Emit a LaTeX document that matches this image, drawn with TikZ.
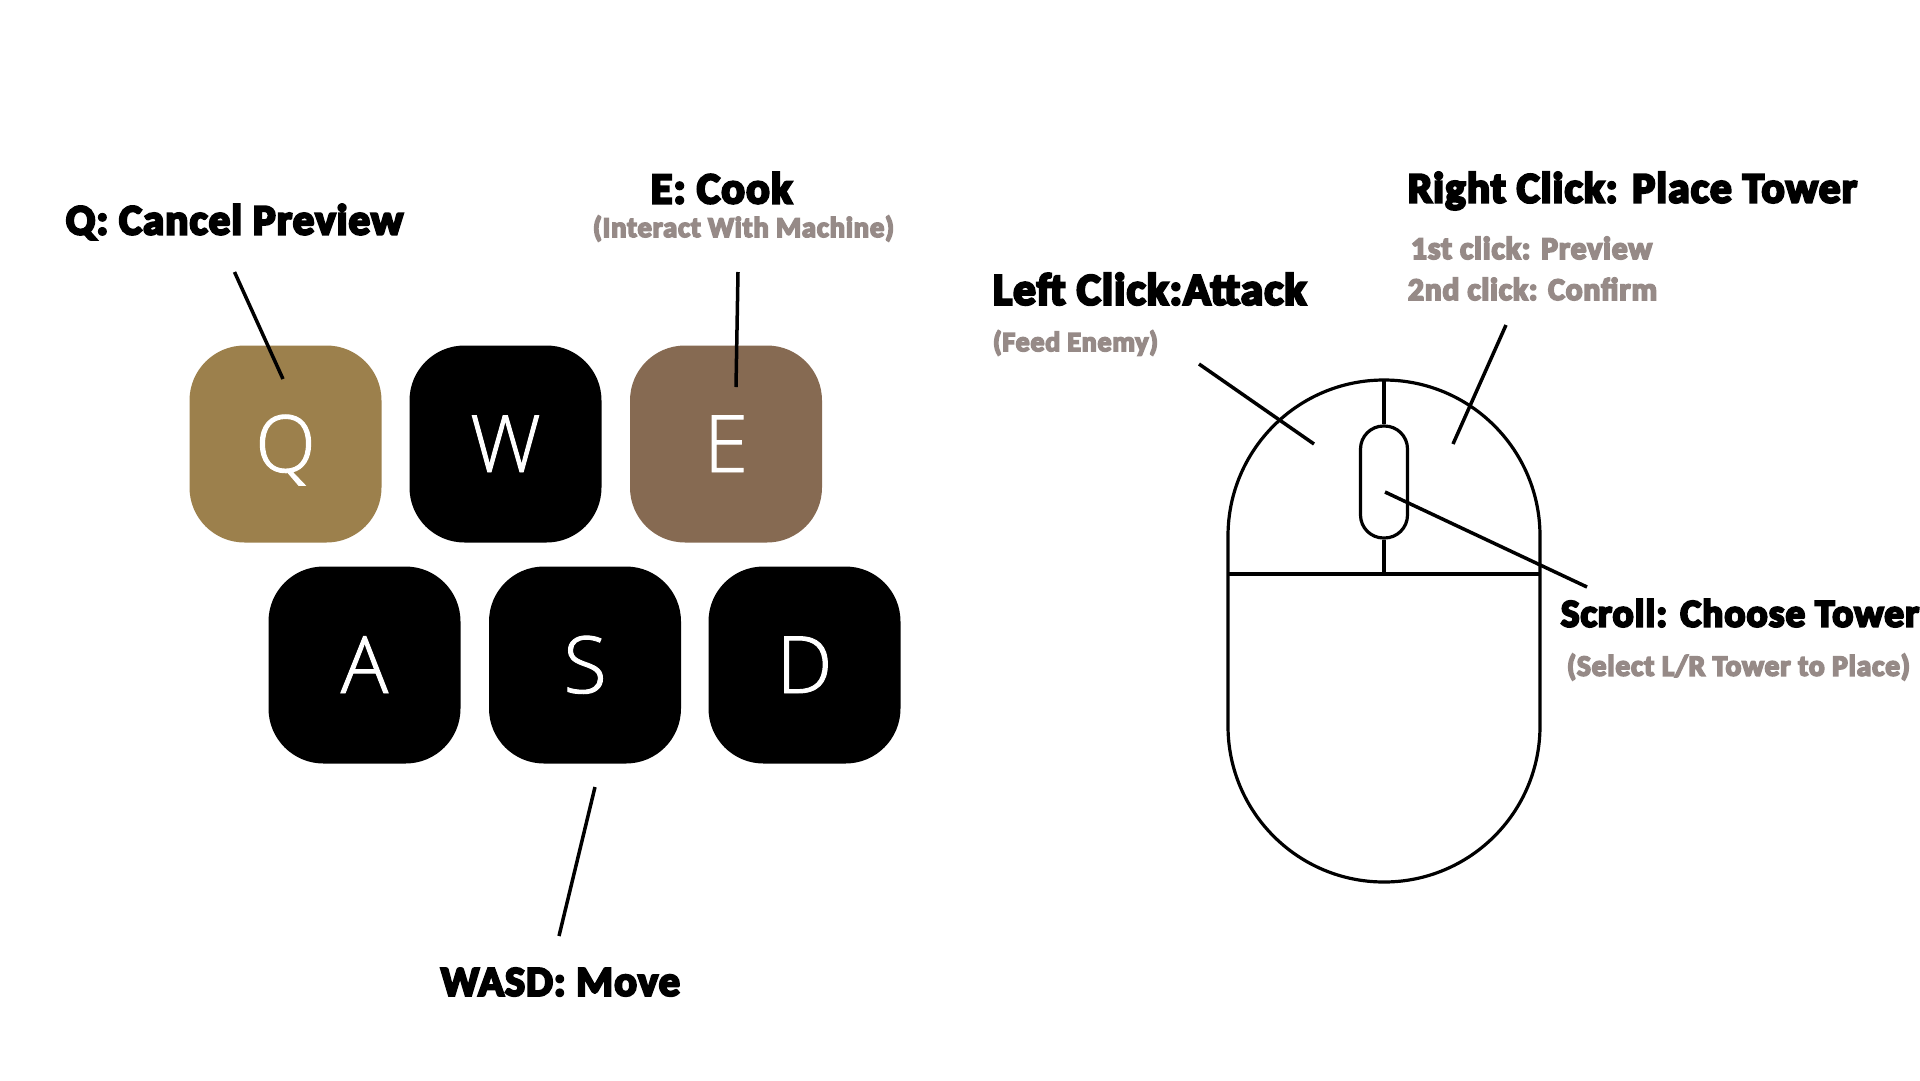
\documentclass[tikz,border=0pt]{standalone}
\usepackage{fontspec}
\setmainfont[FakeBold=1.2]{Open Sans Light}
\newfontfamily\bubfont[FakeBold=6,LetterSpace=3]{Carlito Bold}
\definecolor{keyq}{HTML}{9C804C}
\definecolor{keye}{HTML}{866A52}
\definecolor{subgrey}{HTML}{968A87}
\newcommand{\fitw}[2]{\resizebox{#1pt}{!}{\bubfont #2}}
\tikzset{
  keycap/.style={rectangle,rounded corners=55pt,minimum width=192pt,minimum height=197pt,inner sep=0pt,fill=black,text=white,text height=56pt,text depth=0pt,font=\fontsize{79}{80}\selectfont},
  lead/.style={draw=black,line width=3.5pt},
  outline/.style={draw=black,line width=3.2pt},
  headlabel/.style={inner sep=0pt,text=black},
  sublabel/.style={inner sep=0pt,text=subgrey}
}
\begin{document}
\begin{tikzpicture}[x=1pt,y=-1pt]
\useasboundingbox[fill=white] (0,0) rectangle (1920,1080);
% keys
\node[keycap,fill=keyq] (q) at (285.5,444) {Q};
\node[keycap] (w) at (505.5,444) {W};
\node[keycap,fill=keye] (e) at (726,444) {E};
\node[keycap] (a) at (364.5,665) {A};
\node[keycap] (s) at (585,665) {S};
\node[keycap] (d) at (804.5,665) {D};
% key labels
\node[headlabel] (lq) at (234.5,222) {\fitw{337}{Q: Cancel Preview}};
\node[headlabel] (le) at (721.5,188) {\fitw{141}{E: Cook}};
\node[sublabel] (lei) at (743.5,228.5) {\fitw{301}{(Interact With Machine)}};
\node[headlabel] (lw) at (560.5,982) {\fitw{239}{WASD: Move}};
% key leaders
\coordinate (q1) at (234.5,272);
\coordinate (q2) at (283,379);
\coordinate (e1) at (738,272);
\coordinate (e2) at (736,387);
\coordinate (s1) at (595,787);
\coordinate (s2) at (559,936);
\draw[lead] (q1) -- (q2);
\draw[lead] (e1) -- (e2);
\draw[lead] (s1) -- (s2);
% mouse
\draw[outline] (1228,536) arc[start angle=180,end angle=360,radius=156] -- (1540,726) arc[start angle=0,end angle=180,radius=156] -- cycle;
\coordinate (midl) at (1228,574);
\coordinate (midr) at (1540,574);
\coordinate (midc) at (1384,574);
\coordinate (topc) at (1384,380);
\draw[outline] (midl) -- (midr);
\node[draw=black,line width=3.2pt,fill=white,rectangle,rounded corners=23pt,minimum width=47pt,minimum height=112pt,inner sep=0pt] (wheel) at (1384,482) {};
\draw[outline] (topc) -- (wheel.north);
\draw[outline] (wheel.south) -- (midc);
% mouse labels
\node[headlabel] (lr) at (1632.5,191) {\fitw{449}{Right Click: Place Tower}};
\node[sublabel] (lr1) at (1531.5,248) {\fitw{241}{1st click: Preview}};
\node[sublabel] (lr2) at (1532.5,289) {\fitw{249}{2nd click: Confirm}};
\node[headlabel] (ll) at (1149.5,289) {\fitw{313}{Left Click:Attack}};
\node[sublabel] (ll1) at (1075.5,343) {\fitw{165}{(Feed Enemy)}};
\node[headlabel] (lsc) at (1740,613) {\fitw{358}{Scroll: Choose Tower}};
\node[sublabel] (lsc1) at (1738.5,667) {\fitw{343}{(Select L/R Tower to Place)}};
% mouse leaders
\coordinate (l1) at (1199,364);
\coordinate (l2) at (1314,444);
\coordinate (r1) at (1506,325);
\coordinate (r2) at (1453,444);
\coordinate (c1) at (1385,492);
\coordinate (c2) at (1587,587);
\draw[lead] (l1) -- (l2);
\draw[lead] (r1) -- (r2);
\draw[lead] (c1) -- (c2);
\end{tikzpicture}
\end{document}
